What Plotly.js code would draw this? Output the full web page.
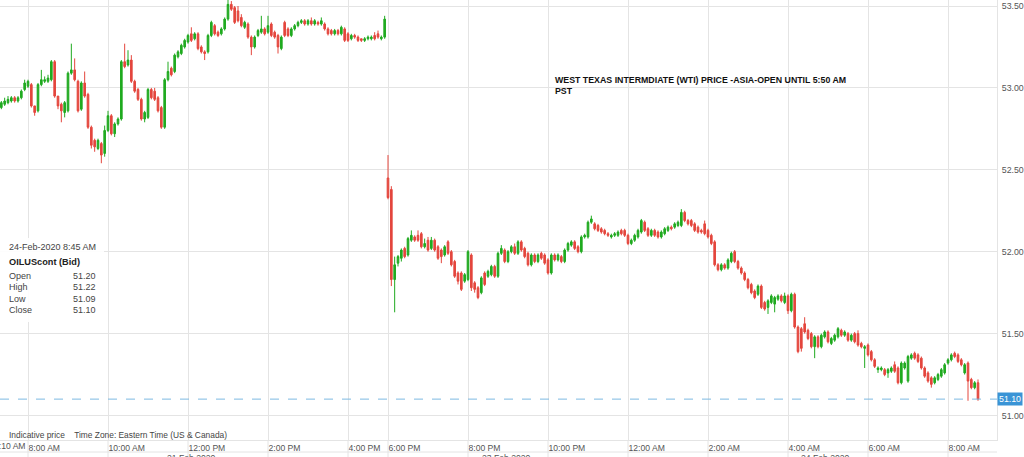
<!DOCTYPE html>
<html><head><meta charset="utf-8">
<script src="https://cdn.plot.ly/plotly-3.0.1.min.js"></script>
<style>html,body{margin:0;padding:0;background:#fff;overflow:hidden}#chart{width:1024px;height:457px}</style>
</head><body><div id="chart"></div>
<script>
// ---- Data (5-minute candles, OILUScont Bid) ----
const sessionStarts = ["2020-02-21 07:20", "2020-02-23 18:00"];
const barMinutes = 5;

const friOpen  = [52.88,52.90,52.91,52.92,52.94,52.92,52.94,52.99,53.01,53.02,52.89,52.86,53.02,53.04,53.04,53.05,53.16,52.95,52.90,52.85,52.86,53.09,53.11,53.04,52.87,53.03,52.96,52.76,52.68,52.63,52.66,52.60,52.74,52.83,52.72,52.78,52.81,53.16,53.14,53.17,53.04,52.99,52.93,52.81,52.82,52.99,52.98,52.94,52.88,52.76,53.05,53.12,53.10,53.19,53.21,53.25,53.28,53.33,53.30,53.33,53.25,53.22,53.22,53.32,53.38,53.34,53.33,53.36,53.42,53.51,53.49,53.47,53.43,53.37,53.39,53.31,53.25,53.32,53.34,53.36,53.34,53.39,53.34,53.32,53.24,53.40,53.36,53.32,53.36,53.38,53.40,53.41,53.39,53.41,53.39,53.40,53.39,53.39,53.36,53.35,53.33,53.35,53.33,53.36,53.33,53.30,53.32,53.31,53.30,53.29,53.30,53.30,53.32,53.33,53.30,53.31];
const friHigh  = [52.92,52.94,52.95,52.95,52.95,52.95,52.99,53.05,53.05,53.03,52.89,53.03,53.11,53.07,53.08,53.17,53.17,52.95,52.91,52.92,53.10,53.27,53.18,53.05,53.04,53.10,52.97,52.77,52.69,52.69,52.67,52.77,52.86,52.84,52.79,52.82,53.17,53.27,53.23,53.20,53.05,53.00,52.94,52.86,53.00,53.00,53.00,52.95,52.89,53.06,53.16,53.13,53.21,53.23,53.27,53.30,53.33,53.37,53.34,53.34,53.26,53.23,53.33,53.41,53.39,53.35,53.37,53.43,53.54,53.53,53.50,53.50,53.45,53.41,53.40,53.32,53.32,53.36,53.44,53.37,53.44,53.40,53.35,53.33,53.32,53.41,53.37,53.37,53.39,53.41,53.42,53.42,53.42,53.43,53.42,53.41,53.43,53.40,53.37,53.36,53.36,53.36,53.38,53.37,53.34,53.33,53.33,53.32,53.30,53.31,53.32,53.32,53.34,53.35,53.32,53.44];
const friLow   = [52.87,52.89,52.90,52.91,52.91,52.91,52.93,52.98,53.00,52.88,52.83,52.85,53.01,53.03,53.03,53.04,52.94,52.87,52.79,52.82,52.85,53.08,53.04,52.85,52.86,52.94,52.75,52.63,52.61,52.62,52.54,52.58,52.73,52.71,52.70,52.77,52.80,53.12,53.13,53.03,52.97,52.92,52.80,52.79,52.81,52.93,52.92,52.85,52.75,52.75,53.04,53.07,53.09,53.18,53.20,53.24,53.27,53.28,53.29,53.23,53.21,53.17,53.21,53.31,53.32,53.31,53.32,53.35,53.41,53.47,53.39,53.40,53.37,53.36,53.30,53.20,53.24,53.31,53.33,53.32,53.33,53.31,53.30,53.21,53.23,53.31,53.31,53.31,53.35,53.37,53.39,53.38,53.38,53.38,53.38,53.38,53.38,53.35,53.32,53.32,53.32,53.32,53.32,53.28,53.28,53.29,53.30,53.28,53.28,53.28,53.29,53.29,53.29,53.30,53.29,53.30];
const friClose = [52.91,52.92,52.93,52.94,52.92,52.94,52.98,53.03,53.04,52.89,52.85,53.02,53.05,53.05,53.06,53.16,52.95,52.89,52.86,52.91,53.09,53.11,53.05,52.86,53.03,52.95,52.76,52.65,52.64,52.68,52.59,52.74,52.83,52.72,52.78,52.81,53.16,53.13,53.17,53.04,52.98,52.93,52.81,52.85,52.99,52.94,52.93,52.86,52.76,53.05,53.10,53.08,53.20,53.22,53.26,53.29,53.32,53.29,53.33,53.24,53.22,53.21,53.32,53.40,53.33,53.32,53.36,53.42,53.51,53.48,53.40,53.41,53.38,53.40,53.31,53.25,53.31,53.35,53.36,53.33,53.38,53.32,53.31,53.25,53.31,53.32,53.32,53.36,53.38,53.40,53.41,53.39,53.41,53.39,53.41,53.39,53.41,53.36,53.33,53.33,53.35,53.33,53.37,53.29,53.29,53.32,53.31,53.29,53.29,53.30,53.31,53.31,53.30,53.31,53.31,53.42];

const sunOpen  = [52.45,52.38,51.83,51.93,51.96,52.02,51.98,52.07,52.09,52.10,52.11,52.03,52.07,52.02,52.07,52.03,52.01,51.98,52.06,52.00,51.94,51.87,51.87,51.82,51.83,51.98,51.81,51.78,51.75,51.87,51.85,51.86,51.91,51.85,51.99,52.01,51.94,52.00,52.03,51.99,52.06,52.02,51.99,51.92,51.98,51.94,51.99,51.98,51.95,51.87,51.98,51.95,51.97,51.94,52.01,52.04,52.06,52.03,52.00,52.09,52.09,52.18,52.17,52.16,52.14,52.13,52.11,52.09,52.10,52.10,52.13,52.13,52.10,52.05,52.07,52.09,52.12,52.18,52.14,52.10,52.13,52.12,52.09,52.11,52.13,52.15,52.15,52.16,52.16,52.24,52.19,52.19,52.17,52.15,52.13,52.17,52.13,52.10,52.06,51.92,51.89,51.92,51.90,51.94,52.00,51.94,51.90,51.87,51.83,51.80,51.76,51.74,51.79,51.69,51.66,51.69,51.68,51.71,51.73,51.69,51.73,51.64,51.74,51.54,51.53,51.56,51.52,51.50,51.42,51.48,51.42,51.48,51.51,51.44,51.46,51.48,51.52,51.49,51.50,51.46,51.50,51.50,51.44,51.41,51.43,51.39,51.34,51.28,51.28,51.28,51.26,51.27,51.31,51.29,51.20,51.29,51.21,51.35,51.38,51.37,51.35,51.29,51.26,51.23,51.20,51.22,51.24,51.26,51.32,51.34,51.38,51.37,51.34,51.26,51.32,51.22,51.17,51.20];
const sunHigh  = [52.59,52.40,51.97,51.98,52.02,52.03,52.09,52.13,52.10,52.13,52.12,52.08,52.09,52.09,52.08,52.04,52.02,52.04,52.07,52.01,51.95,51.88,51.88,51.87,52.01,51.99,51.82,51.79,51.85,51.88,51.89,51.92,51.92,52.00,52.04,52.02,52.01,52.04,52.05,52.07,52.07,52.03,52.00,51.99,51.99,51.99,52.00,51.99,51.96,51.99,51.99,51.99,51.98,52.02,52.06,52.07,52.07,52.04,52.10,52.11,52.19,52.22,52.18,52.17,52.15,52.14,52.12,52.11,52.12,52.13,52.14,52.14,52.11,52.08,52.11,52.14,52.20,52.19,52.15,52.14,52.14,52.13,52.13,52.15,52.16,52.16,52.18,52.19,52.26,52.25,52.20,52.20,52.18,52.16,52.14,52.19,52.14,52.11,52.07,51.93,51.93,51.93,51.96,52.00,52.01,51.95,51.91,51.88,51.84,51.81,51.77,51.80,51.80,51.70,51.71,51.74,51.73,51.74,51.74,51.75,51.74,51.75,51.75,51.55,51.54,51.60,51.53,51.51,51.49,51.49,51.50,51.52,51.52,51.48,51.50,51.54,51.53,51.52,51.51,51.50,51.51,51.52,51.45,51.43,51.44,51.40,51.35,51.30,51.30,51.29,51.29,51.30,51.33,51.30,51.33,51.33,51.37,51.38,51.39,51.38,51.36,51.30,51.27,51.24,51.24,51.26,51.29,51.32,51.35,51.38,51.39,51.38,51.35,51.32,51.33,51.23,51.21,51.22];
const sunLow   = [52.32,51.79,51.63,51.91,51.94,51.96,51.97,52.06,52.06,52.06,52.02,52.02,52.00,52.01,52.00,51.95,51.93,51.97,51.98,51.91,51.84,51.80,51.76,51.81,51.82,51.76,51.75,51.71,51.74,51.79,51.84,51.85,51.84,51.84,51.98,51.93,51.93,51.99,51.98,51.98,52.00,51.96,51.91,51.91,51.93,51.93,51.95,51.92,51.86,51.86,51.94,51.94,51.93,51.93,52.00,52.03,52.01,51.99,51.99,52.08,52.08,52.17,52.13,52.12,52.11,52.10,52.09,52.08,52.09,52.09,52.10,52.09,52.04,52.04,52.06,52.08,52.11,52.12,52.09,52.09,52.09,52.08,52.08,52.10,52.12,52.13,52.14,52.15,52.15,52.18,52.16,52.15,52.12,52.11,52.11,52.10,52.08,52.04,51.91,51.88,51.88,51.89,51.89,51.93,51.93,51.89,51.86,51.82,51.77,51.74,51.71,51.73,51.65,51.64,51.62,51.68,51.63,51.70,51.69,51.68,51.62,51.63,51.53,51.38,51.39,51.50,51.46,51.41,51.35,51.41,51.41,51.47,51.44,51.43,51.45,51.47,51.48,51.48,51.45,51.45,51.44,51.42,51.41,51.29,51.36,51.33,51.29,51.26,51.27,51.24,51.23,51.26,51.26,51.19,51.19,51.28,51.20,51.34,51.34,51.32,51.28,51.23,51.20,51.17,51.19,51.21,51.23,51.25,51.31,51.33,51.35,51.32,51.30,51.25,51.09,51.16,51.16,51.09];
const sunClose = [52.33,51.83,51.92,51.97,52.01,51.97,52.08,52.10,52.07,52.07,52.03,52.05,52.01,52.07,52.01,51.96,51.97,52.03,51.99,51.92,51.85,51.82,51.77,51.86,52.00,51.78,51.77,51.72,51.84,51.80,51.88,51.91,51.85,51.99,52.02,51.94,52.00,52.03,51.99,52.06,52.01,51.97,51.92,51.98,51.94,51.98,51.96,51.93,51.87,51.98,51.95,51.98,51.94,52.01,52.05,52.06,52.02,52.00,52.09,52.10,52.18,52.20,52.14,52.13,52.12,52.11,52.10,52.10,52.11,52.12,52.11,52.10,52.05,52.07,52.10,52.13,52.19,52.13,52.10,52.13,52.10,52.09,52.12,52.14,52.15,52.14,52.17,52.18,52.24,52.19,52.17,52.16,52.13,52.12,52.12,52.11,52.09,52.05,51.92,51.89,51.92,51.90,51.95,51.99,51.94,51.90,51.87,51.83,51.78,51.75,51.72,51.79,51.66,51.65,51.70,51.73,51.72,51.73,51.70,51.73,51.64,51.74,51.54,51.39,51.41,51.51,51.47,51.42,51.48,51.42,51.49,51.51,51.45,51.47,51.49,51.53,51.49,51.51,51.46,51.49,51.45,51.43,51.42,51.42,51.37,51.34,51.30,51.29,51.29,51.25,51.28,51.29,51.27,51.20,51.32,51.32,51.36,51.37,51.35,51.33,51.29,51.24,51.21,51.19,51.23,51.25,51.28,51.31,51.34,51.37,51.36,51.33,51.31,51.31,51.21,51.17,51.20,51.10];

// Axis ticks
const tickTimes  = ["2020-02-21 08:00","2020-02-21 10:00","2020-02-21 12:00","2020-02-21 14:00","2020-02-21 16:00","2020-02-23 18:00","2020-02-23 20:00","2020-02-23 22:00","2020-02-24 00:00","2020-02-24 02:00","2020-02-24 04:00","2020-02-24 06:00","2020-02-24 08:00"];
const tickLabels = ["8:00 AM","10:00 AM","12:00 PM","2:00 PM","4:00 PM","6:00 PM","8:00 PM","10:00 PM","12:00 AM","2:00 AM","4:00 AM","6:00 AM","8:00 AM"];
const priceTicks = [51.0, 51.5, 52.0, 52.5, 53.0, 53.5];
const dateLabels = ["21 Feb 2020", "23 Feb 2020", "24 Feb 2020"];
const firstTickLabel = "7:10 AM";
const instrument = "OILUScont (Bid)";
const lastStamp = "24-Feb-2020 8:45 AM";

// ---- Build ----
function addMinutes(base, minutes) {
  const [d, t] = base.split(" ");
  const [Y, M, D] = d.split("-").map(Number);
  const [h, m] = t.split(":").map(Number);
  const ms = Date.UTC(Y, M - 1, D, h, m) + minutes * 60000;
  return new Date(ms).toISOString().slice(0, 16).replace("T", " ");
}
const sessions = [
  {o: friOpen, h: friHigh, l: friLow, c: friClose},
  {o: sunOpen, h: sunHigh, l: sunLow, c: sunClose}
];
const X = [], O = [], H = [], L = [], C = [];
sessions.forEach((s, k) => {
  s.c.forEach((v, i) => {
    X.push(addMinutes(sessionStarts[k], i * barMinutes));
    O.push(s.o[i]); H.push(s.h[i]); L.push(s.l[i]); C.push(v);
  });
});
const lastClose = C[C.length - 1];
const lastO = O[O.length - 1], lastH = H[H.length - 1], lastL = L[L.length - 1];

const FONT = "Liberation Sans, Arial, sans-serif";
const GREEN = "#20aa20", RED = "#e4463d", GRID = "#e4e4e4";

const W = 997, PH = 440; // plot width/height in px
const px = x => x / W;
const py = y => (PH - y) / PH;

const trace = {
  type: "candlestick", x: X, open: O, high: H, low: L, close: C,
  increasing: {line: {color: GREEN, width: 1}, fillcolor: GREEN},
  decreasing: {line: {color: RED, width: 1}, fillcolor: RED},
  whiskerwidth: 0, hoverinfo: "skip", showlegend: false
};

const txt = (x, y, text, opts = {}) => Object.assign({
  xref: "paper", yref: "paper", x: px(x), y: py(y), text: text, showarrow: false,
  xanchor: "left", yanchor: "middle", align: "left",
  font: {family: FONT, size: 9, color: "#444"}
}, opts);
const small = {family: FONT, size: 8.6, color: "#555"};

const annotations = [
  txt(7, 247, lastStamp),
  txt(7, 262, instrument, {font: {family: FONT, size: 9.2, color: "#222", weight: "bold"}}),
  txt(7, 275.5, "Open"), txt(7, 287, "High"), txt(7, 298.5, "Low"), txt(7, 310, "Close"),
  txt(98, 275.5, lastO.toFixed(2), {xanchor: "right"}),
  txt(98, 287, lastH.toFixed(2), {xanchor: "right"}),
  txt(98, 298.5, lastL.toFixed(2), {xanchor: "right"}),
  txt(98, 310, lastClose.toFixed(2), {xanchor: "right"}),
  txt(553, 86, "WEST TEXAS INTERMDIATE (WTI) PRICE -ASIA-OPEN UNTIL 5:50 AM<br>PST",
      {font: {family: FONT, size: 8.8, color: "#111", weight: "bold"}}),
  txt(7, 435, "Indicative price\u00a0\u00a0\u00a0\u00a0Time Zone: Eastern Time (US & Canada)",
      {font: {family: FONT, size: 8.4, color: "#444"}}),
  txt(-8, 446, firstTickLabel, {font: small}),
  txt(191, 458, dateLabels[0], {xanchor: "center", font: small}),
  txt(506, 458, dateLabels[1], {xanchor: "center", font: small}),
  txt(825, 458, dateLabels[2], {xanchor: "center", font: small}),
  {xref: "paper", yref: "y", x: 1, y: lastClose, xanchor: "left", yanchor: "middle",
   text: lastClose.toFixed(2), showarrow: false, bgcolor: "#3a94d6", borderpad: 1,
   xshift: 0, font: {family: FONT, size: 8.8, color: "#fff"}}
];

const shapes = [
  {type: "line", xref: "paper", yref: "y", x0: 0, x1: 1, y0: lastClose, y1: lastClose,
   line: {color: "#7cb9e2", width: 1, dash: "dash"}},
  {type: "rect", xref: "paper", yref: "paper", x0: 0, x1: px(104), y0: py(322), y1: py(238),
   fillcolor: "rgba(255,255,255,0.9)", line: {width: 0}, layer: "above"},
  {type: "line", xref: "paper", yref: "paper", x0: 0, x1: 1, y0: py(452), y1: py(452),
   line: {color: GRID, width: 1}}
].concat(tickTimes.map(t => ({type: "line", xref: "x", yref: "paper", x0: t, x1: t,
   y0: py(457), y1: 0, line: {color: GRID, width: 1}})));

const layout = {
  width: 1024, height: 457,
  margin: {l: 0, r: 1024 - W, t: 0, b: 457 - PH, pad: 0},
  paper_bgcolor: "#fff", plot_bgcolor: "#fff",
  showlegend: false, dragmode: false,
  xaxis: {
    type: "date", range: ["2020-02-21 07:18", "2020-02-24 09:13:30"],
    rangebreaks: [{bounds: ["2020-02-21 17:00", "2020-02-23 18:00"]}],
    rangeslider: {visible: false},
    tickmode: "array", tickvals: tickTimes, ticktext: tickLabels,
    ticklabelposition: "outside right", tickangle: 0, ticks: "",
    showgrid: true, gridcolor: GRID, gridwidth: 1,
    showline: true, linecolor: GRID, linewidth: 1,
    tickfont: small, zeroline: false, fixedrange: true
  },
  yaxis: {
    side: "right", range: [50.8504, 53.5366],
    tickmode: "array", tickvals: priceTicks, ticktext: priceTicks.map(v => v.toFixed(2)),
    ticks: "", ticklabelstandoff: 2,
    showgrid: true, gridcolor: GRID, gridwidth: 1,
    showline: true, linecolor: GRID, linewidth: 1,
    tickfont: {family: FONT, size: 8.8, color: "#555"}, zeroline: false, fixedrange: true
  },
  annotations: annotations, shapes: shapes
};

Plotly.newPlot("chart", [trace], layout, {displayModeBar: false, staticPlot: true});
</script></body></html>
